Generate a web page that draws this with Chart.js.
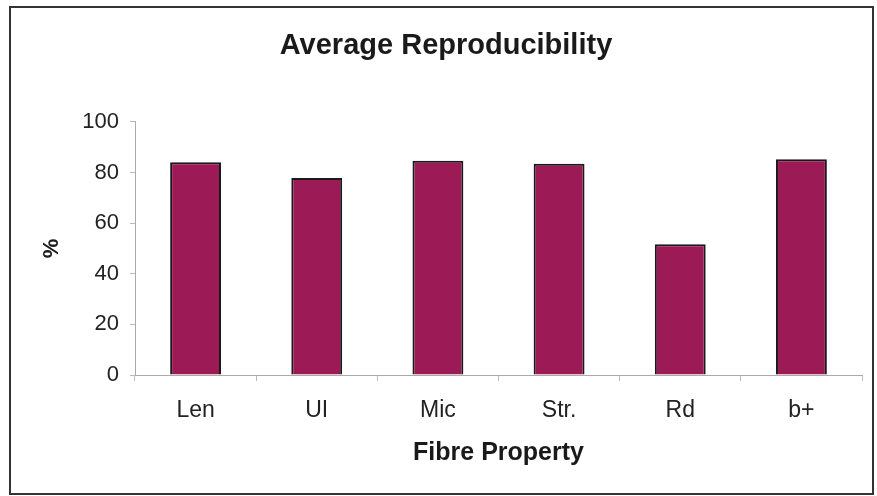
<!DOCTYPE html>
<html>
<head>
<meta charset="utf-8">
<script src="https://cdn.jsdelivr.net/npm/chart.js@4.4.0/dist/chart.umd.min.js"></script>
<style>
  html, body { margin: 0; padding: 0; background: #fff; }
  canvas { display: block; }
</style>
</head>
<body>
<canvas id="myChart" width="877" height="496"></canvas>
<script>
//data
const properties = ["Len", "UI", "Mic", "Str.", "Rd", "b+"];
const reproducibility = [84, 77.8, 84.6, 83.4, 51.6, 85.2];
const yTicks = [0, 20, 40, 60, 80, 100];

const FONT = "'Liberation Sans', Arial, Helvetica, sans-serif";

//frame round the whole chart
const framePlugin = {
  id: "frame",
  afterDraw(chart) {
    const ctx = chart.ctx;
    ctx.save();
    ctx.strokeStyle = "#333";
    ctx.lineWidth = 2;
    ctx.strokeRect(10, 7, 863, 487);
    ctx.restore();
  },
};

const config = {
  type: "bar",
  data: {
    labels: properties,
    datasets: [
      {
        label: "Average Reproducibility",
        data: reproducibility,
        backgroundColor: "#9C1B57",
        borderColor: "#1a1a1a",
        borderWidth: 2,
        barPercentage: 0.42,
        categoryPercentage: 1,
        yAxisID: "y",
      },
    ],
  },
  options: {
    responsive: false,
    animation: false,
    devicePixelRatio: 1,
    layout: { padding: { left: 15, right: 0, top: 0, bottom: 11 } },
    plugins: {
      legend: { display: false },
      tooltip: { enabled: false },
      title: {
        display: true,
        text: "Average Reproducibility",
        color: "#1a1a1a",
        font: { family: FONT, size: 29, weight: "bold" },
        padding: { top: 29, bottom: 58 },
      },
    },
    scales: {
      x: {
        afterFit(scale) {
          scale.height = 110;
        },
        grid: {
          drawOnChartArea: false,
          drawTicks: true,
          tickLength: 6,
          color: "#bbb",
        },
        border: { color: "#aaa", width: 1 },
        ticks: {
          color: "#222",
          font: { family: FONT, size: 23 },
          padding: 16,
        },
        title: {
          display: true,
          text: "Fibre Property",
          color: "#1a1a1a",
          font: { family: FONT, size: 25, weight: "bold" },
          padding: { top: 0, bottom: 17 },
        },
      },
      y: {
        min: 0,
        max: 100,
        afterFit(scale) {
          scale.width = 120;
        },
        afterBuildTicks(scale) {
          scale.ticks = yTicks.map((v) => ({ value: v }));
        },
        grid: {
          drawOnChartArea: false,
          drawTicks: true,
          tickLength: 5,
          color: "#bbb",
        },
        border: { color: "#aaa", width: 1 },
        ticks: {
          color: "#222",
          font: { family: FONT, size: 22 },
          padding: 11,
        },
        title: {
          display: true,
          text: "%",
          color: "#1a1a1a",
          font: { family: FONT, size: 22, weight: "bold" },
          padding: { top: 24, bottom: 0 },
        },
      },
      //empty space on the right of the plot
      yRight: {
        position: "right",
        afterFit(scale) {
          scale.width = 15;
        },
        grid: { display: false },
        border: { display: false },
        ticks: { display: false },
      },
    },
  },
  plugins: [framePlugin],
};

const myChart = new Chart(document.getElementById("myChart"), config);
</script>
</body>
</html>
